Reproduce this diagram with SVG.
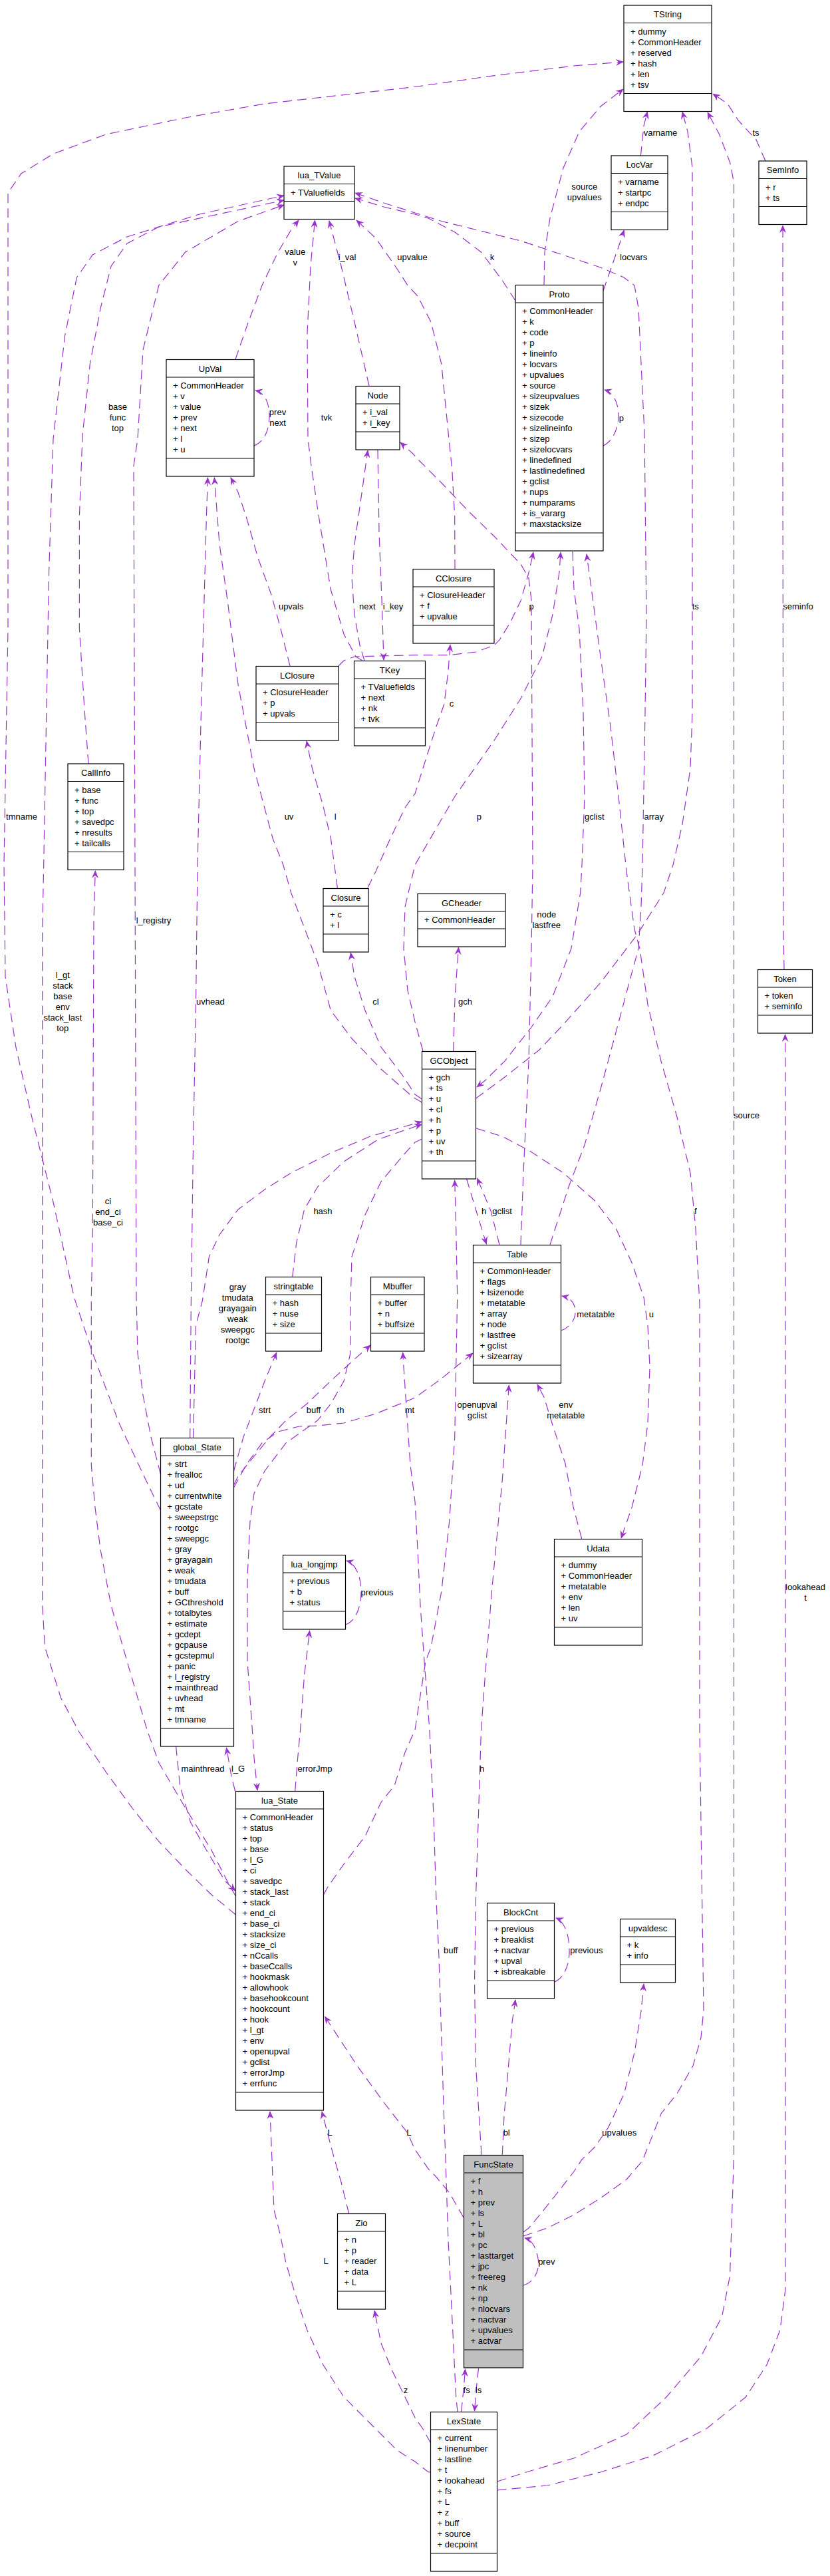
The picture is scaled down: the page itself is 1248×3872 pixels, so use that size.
<svg xmlns="http://www.w3.org/2000/svg" width="1248" height="3872" viewBox="0 0 1248 3872">
<style>
text{font-family:"Liberation Sans",Arial,sans-serif;font-size:13px;fill:#000}
.n rect{fill:#fff;stroke:#000;stroke-width:1.2}
.n line{stroke:#000;stroke-width:1.2}
.n .tt{text-anchor:middle}
#FuncState rect{fill:#bfbfbf}
.e path{fill:none;stroke:#9a32cd;stroke-width:1.2;stroke-dasharray:14,8;marker-end:url(#a)}
.e path.l{marker-end:none}
.lb text{text-anchor:middle}
</style>
<defs>
<marker id="a" viewBox="0 0 12 10" refX="11" refY="5" markerWidth="12" markerHeight="10" markerUnits="userSpaceOnUse" orient="auto"><path d="M0,0 L12,5 L0,10 L4,5 z" fill="#9a32cd"/></marker>
</defs>
<rect width="1248" height="3872" fill="#fff"/>

<g class="e">
<path d="M787,3361 L799,3357 L823,3349 L863,3329 L903,3304 L942,3276 L966,3248 L994,3177 L1018,3147 L1042,3105 L1054,3063 L1058,3021 L1052,2600 L1052,1960 L1046,1847 L1038,1763 L1018,1679 L994,1595 L974,1510 L962,1426 L954,1397 L942,1310 L930,1197 L918,1092 L903,987 L887,869 L882,833"/>
<path d="M723.5,3239 L723.5,3231 L715.5,3105 L713.5,2979 L715.5,2852 L719.5,2726 L723.5,2600 L729.5,2518 L739.4,2392 L747.4,2308 L755.3,2224 L761.3,2139 L765.3,2082"/>
<path d="M787,3435 C805,3430 812,3410 809,3395 C806,3378 800,3367 789,3364"/>
<path d="M719.5,3560 L716,3592 L713.5,3624"/>
<path d="M693.6,3625 L697,3592 L699.6,3561"/>
<path d="M697,3333 L675.7,3296 L655.8,3272 L644,3260 L624,3231 L612.8,3206 L577,3160 L537,3105 L509.4,3063 L488.5,3031"/>
<path d="M755.3,3239 L758,3180 L765,3100 L770,3040 L775,3006"/>
<path d="M787,3355 L795,3349 L815,3325 L835,3300 L863,3264 L875,3246 L894.6,3227 L914.5,3198 L938.4,3147 L954.3,3084 L964.2,3021 L968,2982"/>
<path d="M747.5,3743 L823,3736 L902.6,3716 L982,3691 L1061.7,3651 L1121.4,3603 L1153.3,3554 L1173,3502 L1181,3441 L1181,3240 L1181,1600 L1180.5,1555"/>
<path d="M647.5,3716 L644,3715.6 L624,3700 L597,3683 L557,3643 L517,3603 L485.5,3554 L461.6,3502 L441.7,3441 L429.8,3401 L421.8,3361 L411.9,3321 L408.7,3240 L406,3174"/>
<path d="M647.5,3672 L636,3651 L624,3634 L609,3603 L589,3562 L573,3522 L563,3473"/>
<path d="M688,3625 L685.7,3603 L679.7,3482 L673.7,3361 L669.8,3240 L667.8,3189 L663.8,3063 L659.8,2937 L655.8,2852 L651.9,2726 L645.9,2600 L638,2497 L632,2413 L628,2329 L624,2257 L617,2202 L610,2100 L605.6,2033"/>
<path d="M747.5,3730 L791,3716 L862.8,3695 L942.4,3659 L1002,3603 L1054,3542 L1085.6,3482 L1097.5,3421 L1103.5,3240 L1103.5,274 L1097.5,244 L1081.6,202 L1064,169"/>
<path d="M1179,1457 L1178,1400 L1177,700 L1177,339"/>
<path d="M1151,242 L1137,210 L1110,181 L1094,156 L1072,141"/>
<path d="M524.5,3327 L513,3280 L501.4,3240 L493.4,3210 L484,3174"/>
<path d="M834,2979 C850,2972 857,2950 856,2928 C855,2905 848,2888 836,2883"/>
<path d="M486.5,2848 L493,2836 L517,2802 L549,2760 L573,2709 L593,2684 L609,2634 L624,2600 L640,2497 L648,2476 L663.8,2392 L675.7,2287 L683.7,2160 L687.7,1950 L685.7,1847 L683.7,1774"/>
<path d="M354.5,2878 L318,2848 L279,2810 L239,2768 L199,2718 L159,2663 L119.4,2604 L91.5,2552 L67.6,2476 L63.7,2413 L63.7,1400 L65.7,1300 L73.6,860 L80,660 L97.5,505 L115.4,417 L139.3,383 L191,356 L300,322 L427,294"/>
<path d="M353.5,2692 L348,2670 L340.5,2627"/>
<path d="M354.5,2850 L346,2836 L318,2781 L279,2718 L239,2650 L221,2600 L191,2497 L167,2413 L151,2329 L143,2266 L137.3,2202 L137.3,1950 L139.3,1850 L141,1384 L143.3,1309"/>
<path d="M443.7,2692 L447.7,2642 L451.6,2600 L457.6,2518 L465.6,2451"/>
<path d="M351.5,2211 L354,2202 L366,2160 L382,2118 L398,2076 L415.8,2033"/>
<path d="M290.5,2161 L292.5,2076 L294.5,1992 L304.4,1955 L314.4,1889 L330,1856 L358,1818 L398,1788 L437.7,1763 L497.4,1733 L557,1708 L634,1686"/>
<path d="M351.5,2232 L358,2219 L378,2194 L406,2160 L430,2135 L461.6,2110 L497,2076 L533,2043 L557,2022"/>
<path d="M264.6,2625 L270.6,2684 L286.5,2739 L310.4,2781 L338,2827 L354,2842"/>
<path d="M285.7,2161 L287.3,1960 L290.5,1721 L294.5,1510 L297,1300 L302.4,1071 L310.4,776 L312.4,718"/>
<path d="M351.5,2236 L370,2202 L394,2169 L418,2152 L450,2144 L477.5,2143 L517,2139 L565,2125 L624,2101 L664,2072 L711,2034"/>
<path d="M241.5,2270 L219,2224 L179,2139 L139.3,2034 L111.4,1950 L79.6,1805 L47.8,1679 L23.9,1574 L8,1468 L6,1300 L12,945 L12,290 L31.8,261 L79.6,231.5 L159.2,202 L278.6,177 L398,156 L624,130.5 L743.4,113.6 L862.8,99 L937,93"/>
<path d="M241.5,2216 L227,2160 L215,2097 L207,2034 L205,1950 L203,1300 L201,700 L207,660 L215,526 L238.8,429 L278.6,379 L358,332.5 L427,308"/>
<path d="M519.5,2442 C535,2437 543,2415 543,2393 C543,2370 535,2350 521,2346"/>
<path d="M439.7,1919.5 L445.7,1868 L457.6,1818 L477.5,1784 L517,1746 L569,1712.5 L634,1690"/>
<path d="M681.7,1580 L684,1500 L689.5,1424"/>
<path d="M715.5,1651 L755,1622 L811,1578 L847,1540 L903,1477 L958,1405 L998,1342 L1012,1300 L1026,1239 L1038,1155 L1041,1071 L1041,650 L1041,252 L1034,198 L1026,168"/>
<path d="M716,1696 L755,1708 L795,1729 L847,1763 L894.6,1805 L926.4,1847 L950,1898 L968,1950 L974,1992 L977,2055 L974,2139 L966,2202.5 L950,2266 L934,2312"/>
<path d="M634.5,1652 L624,1645 L605,1616 L573,1574 L549,1519 L533,1468 L527.3,1432"/>
<path d="M701.6,1772 L716,1820 L731.4,1870"/>
<path d="M636,1580 L624,1536 L613,1489 L607,1426 L609,1363 L624,1300 L684,1197 L743,1113 L783,1050 L815,987 L831,924 L841,860 L843,830"/>
<path d="M634.5,1657 L620.8,1649 L573,1607 L529,1561 L497.4,1519 L477.5,1447 L437.7,1342 L425.8,1300 L410,1260 L382,1155 L358,1029 L342,902 L330,818 L322.3,718"/>
<path d="M634.5,1712 L624,1717 L609,1733.5 L573,1776 L549,1826 L529,1889 L527,1960 L527,2034 L517,2076 L497.4,2110 L477.5,2135 L430,2169 L398,2211 L382,2245 L376,2287 L372,2371 L372,2497 L380,2610 L382,2642 L387,2691"/>
<path d="M553,1334 L565,1310 L585,1264.5 L609,1214 L624,1193 L640,1142 L656,1092 L668,1058 L674,1008 L677,969"/>
<path d="M507.4,1335 L497.4,1260 L485.5,1210 L469.5,1155 L461,1114"/>
<path d="M509,1001 L517,993 L533,987 L624,984.6 L676,984.6 L715.5,980 L743,970 L751,962 L767,936 L783,903 L795,861 L802,830"/>
<path d="M436,1001 L422,945 L408,894 L388,839 L370,776 L358,740 L347,718"/>
<path d="M684,855 L683.7,776 L679.7,705 L674,650 L663.8,547 L648,484 L628,445 L613,429 L597,404 L565,358 L536,331"/>
<path d="M843.5,2000 C858,1995 866,1982 865,1970 C864,1958 858,1951 845,1948"/>
<path d="M827,1871 L855,1784 L879,1721 L903,1637 L926,1552 L946,1477 L960,1426 L964,1363 L966,1300 L970,1071 L972,924 L969,650 L964,547 L960,463 L954,429 L938,417 L903,402 L783,362 L664,332.5 L624,320 L577,305 L534,290"/>
<path d="M783,1871 L787,1763 L795,1595 L799,1426 L801,1300 L799,902 L795,869 L783,848 L763,827 L743,806 L704,768 L664,726 L630,692 L621,682 L602,665"/>
<path d="M751,1871 L738,1820 L717.5,1771"/>
<path d="M874.7,2313 L862,2265 L850,2200 L830,2139 L818,2100 L808,2081"/>
<path d="M555,580 L533,484 L513,400 L495,332"/>
<path d="M568,676 L570,800 L574,900 L577,992"/>
<path d="M545,993 L535,987 L517,953 L497,885 L478,768 L468,700 L463,660 L462,500 L467,400 L473.5,331"/>
<path d="M548,993 L541,970 L533,924 L529,869 L533,818 L545,734 L553,677"/>
<path d="M354,540 L372,488 L394,429 L418,379 L438,345 L449,331"/>
<path d="M382,670 C395,665 405,650 405,625 C405,605 398,590 384,587"/>
<path d="M775,452 L755,421 L723.5,379 L684,349 L644,328 L624,322 L577,311 L534,298"/>
<path d="M907,670 C920,664 930,645 930,625 C930,605 922,590 909,586"/>
<path d="M907,437 L918.5,404 L930.4,370 L938.4,346"/>
<path d="M818,428 L819,379 L827,328 L847,252.5 L871,198 L903,160 L937,134"/>
<path d="M861,829 L863,886 L871,945 L877,1071 L879,1197 L875,1300 L872.7,1342 L858.8,1426 L830.9,1498 L799,1544 L759.3,1594.6 L729.5,1624 L717,1634"/>
<path d="M963.4,234 L968,189 L973.4,168"/>
<path d="M133,1148 L127.3,1071 L119.4,945 L119.4,776 L124,655 L135.3,547 L151.2,463 L167.1,400 L191,366 L238.8,341 L427,301"/>
</g>

<g class="lb">
<text x="443.7" y="383.3">value</text><text x="443.7" y="399.3">v</text>
<text x="522" y="391">i_val</text>
<text x="620" y="391">upvalue</text>
<text x="740" y="391">k</text>
<text x="952.7" y="391">locvars</text>
<text x="993" y="204">varname</text>
<text x="1136.5" y="204">ts</text>
<text x="878.7" y="285.2">source</text><text x="878.7" y="301.2">upvalues</text>
<text x="177" y="616">base</text><text x="177" y="632">func</text><text x="177" y="648">top</text>
<text x="417.5" y="624">prev</text><text x="417.5" y="640">next</text>
<text x="491" y="631.5">tvk</text>
<text x="934.4" y="632.5">p</text>
<text x="437.7" y="915.5">upvals</text>
<text x="552.3" y="915.5">next</text>
<text x="591" y="915.5">i_key</text>
<text x="799" y="915.5">p</text>
<text x="1045.8" y="915.5">ts</text>
<text x="1200" y="915.5">seminfo</text>
<text x="679" y="1061.5">c</text>
<text x="32.6" y="1232">tmname</text>
<text x="434.5" y="1232">uv</text>
<text x="504.2" y="1232">l</text>
<text x="720.3" y="1232">p</text>
<text x="893.8" y="1232">gclist</text>
<text x="983.3" y="1232">array</text>
<text x="231" y="1387.5">l_registry</text>
<text x="821.8" y="1379">node</text><text x="821.8" y="1395">lastfree</text>
<text x="94.3" y="1469.5">l_gt</text><text x="94.3" y="1485.5">stack</text><text x="94.3" y="1501.5">base</text><text x="94.3" y="1517.5">env</text><text x="94.3" y="1533.5">stack_last</text><text x="94.3" y="1549.5">top</text>
<text x="316.4" y="1509.5">uvhead</text>
<text x="565" y="1509.5">cl</text>
<text x="699.6" y="1509.5">gch</text>
<text x="1122.6" y="1680.5">source</text>
<text x="162.4" y="1809.5">ci</text><text x="162.4" y="1825.5">end_ci</text><text x="162.4" y="1841.5">base_ci</text>
<text x="485.5" y="1825">hash</text>
<text x="727.5" y="1825">h</text>
<text x="755" y="1825">gclist</text>
<text x="1045.8" y="1825">f</text>
<text x="357.3" y="1939.2">gray</text><text x="357.3" y="1955.2">tmudata</text><text x="357.3" y="1971.2">grayagain</text><text x="357.3" y="1987.2">weak</text><text x="357.3" y="2003.2">sweepgc</text><text x="357.3" y="2019.2">rootgc</text>
<text x="895.8" y="1979.5">metatable</text>
<text x="979.4" y="1979.5">u</text>
<text x="398" y="2124">strt</text>
<text x="471.5" y="2124">buff</text>
<text x="512" y="2124">th</text>
<text x="616" y="2124">mt</text>
<text x="717.5" y="2116">openupval</text><text x="717.5" y="2132">gclist</text>
<text x="850.8" y="2116">env</text><text x="850.8" y="2132">metatable</text>
<text x="1211" y="2389.5">lookahead</text><text x="1211" y="2405.5">t</text>
<text x="567" y="2397.5">previous</text>
<text x="305" y="2663">mainthread</text>
<text x="358" y="2663">l_G</text>
<text x="473.5" y="2663">errorJmp</text>
<text x="724.7" y="2663">h</text>
<text x="677.7" y="2935.5">buff</text>
<text x="881.9" y="2935.5">previous</text>
<text x="496.2" y="3209.5">L</text>
<text x="614.8" y="3209.5">L</text>
<text x="761.7" y="3209.5">bl</text>
<text x="931.2" y="3209.5">upvalues</text>
<text x="490.2" y="3403">L</text>
<text x="821.8" y="3403.5">prev</text>
<text x="610" y="3596.5">z</text>
<text x="701.6" y="3596.5">fs</text>
<text x="719.5" y="3596.5">ls</text>
</g>

<g id="TString" class="n"><rect x="938" y="8" width="132" height="159.5"/><line x1="938" y1="34.5" x2="1070" y2="34.5"/><line x1="938" y1="140.5" x2="1070" y2="140.5"/><text class="tt" x="1004" y="26">TString</text><text x="948" y="51.5">+ dummy<tspan x="948" dy="16">+ CommonHeader</tspan><tspan x="948" dy="16">+ reserved</tspan><tspan x="948" dy="16">+ hash</tspan><tspan x="948" dy="16">+ len</tspan><tspan x="948" dy="16">+ tsv</tspan></text></g>

<g id="LocVar" class="n"><rect x="919" y="234" width="85" height="111.5"/><line x1="919" y1="260.5" x2="1004" y2="260.5"/><line x1="919" y1="318.5" x2="1004" y2="318.5"/><text class="tt" x="961.5" y="252">LocVar</text><text x="929" y="277.5">+ varname<tspan x="929" dy="16">+ startpc</tspan><tspan x="929" dy="16">+ endpc</tspan></text></g>

<g id="SemInfo" class="n"><rect x="1141" y="242" width="72" height="95.5"/><line x1="1141" y1="268.5" x2="1213" y2="268.5"/><line x1="1141" y1="310.5" x2="1213" y2="310.5"/><text class="tt" x="1177" y="260">SemInfo</text><text x="1151" y="285.5">+ r<tspan x="1151" dy="16">+ ts</tspan></text></g>

<g id="lua_TValue" class="n"><rect x="427" y="250" width="106" height="79.5"/><line x1="427" y1="276.5" x2="533" y2="276.5"/><line x1="427" y1="302.5" x2="533" y2="302.5"/><text class="tt" x="480" y="268">lua_TValue</text><text x="437" y="293.5">+ TValuefields</text></g>

<g id="Proto" class="n"><rect x="775" y="428.5" width="132" height="399.5"/><line x1="775" y1="455" x2="907" y2="455"/><line x1="775" y1="801" x2="907" y2="801"/><text class="tt" x="841" y="446.5">Proto</text><text x="785" y="472">+ CommonHeader<tspan x="785" dy="16">+ k</tspan><tspan x="785" dy="16">+ code</tspan><tspan x="785" dy="16">+ p</tspan><tspan x="785" dy="16">+ lineinfo</tspan><tspan x="785" dy="16">+ locvars</tspan><tspan x="785" dy="16">+ upvalues</tspan><tspan x="785" dy="16">+ source</tspan><tspan x="785" dy="16">+ sizeupvalues</tspan><tspan x="785" dy="16">+ sizek</tspan><tspan x="785" dy="16">+ sizecode</tspan><tspan x="785" dy="16">+ sizelineinfo</tspan><tspan x="785" dy="16">+ sizep</tspan><tspan x="785" dy="16">+ sizelocvars</tspan><tspan x="785" dy="16">+ linedefined</tspan><tspan x="785" dy="16">+ lastlinedefined</tspan><tspan x="785" dy="16">+ gclist</tspan><tspan x="785" dy="16">+ nups</tspan><tspan x="785" dy="16">+ numparams</tspan><tspan x="785" dy="16">+ is_vararg</tspan><tspan x="785" dy="16">+ maxstacksize</tspan></text></g>

<g id="UpVal" class="n"><rect x="250" y="540.5" width="132" height="175.5"/><line x1="250" y1="567" x2="382" y2="567"/><line x1="250" y1="689" x2="382" y2="689"/><text class="tt" x="316" y="558.5">UpVal</text><text x="260" y="584">+ CommonHeader<tspan x="260" dy="16">+ v</tspan><tspan x="260" dy="16">+ value</tspan><tspan x="260" dy="16">+ prev</tspan><tspan x="260" dy="16">+ next</tspan><tspan x="260" dy="16">+ l</tspan><tspan x="260" dy="16">+ u</tspan></text></g>

<g id="Node" class="n"><rect x="535" y="580.5" width="66" height="95.5"/><line x1="535" y1="607" x2="601" y2="607"/><line x1="535" y1="649" x2="601" y2="649"/><text class="tt" x="568" y="598.5">Node</text><text x="545" y="624">+ i_val<tspan x="545" dy="16">+ i_key</tspan></text></g>

<g id="CClosure" class="n"><rect x="621" y="855.5" width="122" height="111.5"/><line x1="621" y1="882" x2="743" y2="882"/><line x1="621" y1="940" x2="743" y2="940"/><text class="tt" x="682" y="873.5">CClosure</text><text x="631" y="899">+ ClosureHeader<tspan x="631" dy="16">+ f</tspan><tspan x="631" dy="16">+ upvalue</tspan></text></g>

<g id="TKey" class="n"><rect x="532.5" y="993.5" width="107" height="127.5"/><line x1="532.5" y1="1020" x2="639.5" y2="1020"/><line x1="532.5" y1="1094" x2="639.5" y2="1094"/><text class="tt" x="586" y="1011.5">TKey</text><text x="542.5" y="1037">+ TValuefields<tspan x="542.5" dy="16">+ next</tspan><tspan x="542.5" dy="16">+ nk</tspan><tspan x="542.5" dy="16">+ tvk</tspan></text></g>

<g id="LClosure" class="n"><rect x="385" y="1001.5" width="124" height="111.5"/><line x1="385" y1="1028" x2="509" y2="1028"/><line x1="385" y1="1086" x2="509" y2="1086"/><text class="tt" x="447" y="1019.5">LClosure</text><text x="395" y="1045">+ ClosureHeader<tspan x="395" dy="16">+ p</tspan><tspan x="395" dy="16">+ upvals</tspan></text></g>

<g id="CallInfo" class="n"><rect x="102" y="1148" width="84" height="159.5"/><line x1="102" y1="1174.5" x2="186" y2="1174.5"/><line x1="102" y1="1280.5" x2="186" y2="1280.5"/><text class="tt" x="144" y="1166">CallInfo</text><text x="112" y="1191.5">+ base<tspan x="112" dy="16">+ func</tspan><tspan x="112" dy="16">+ top</tspan><tspan x="112" dy="16">+ savedpc</tspan><tspan x="112" dy="16">+ nresults</tspan><tspan x="112" dy="16">+ tailcalls</tspan></text></g>

<g id="Closure" class="n"><rect x="486" y="1335.5" width="68" height="95.5"/><line x1="486" y1="1362" x2="554" y2="1362"/><line x1="486" y1="1404" x2="554" y2="1404"/><text class="tt" x="520" y="1353.5">Closure</text><text x="496" y="1379">+ c<tspan x="496" dy="16">+ l</tspan></text></g>

<g id="GCheader" class="n"><rect x="628" y="1343.5" width="132" height="79.5"/><line x1="628" y1="1370" x2="760" y2="1370"/><line x1="628" y1="1396" x2="760" y2="1396"/><text class="tt" x="694" y="1361.5">GCheader</text><text x="638" y="1387">+ CommonHeader</text></g>

<g id="Token" class="n"><rect x="1139.5" y="1457.5" width="82" height="95.5"/><line x1="1139.5" y1="1484" x2="1221.5" y2="1484"/><line x1="1139.5" y1="1526" x2="1221.5" y2="1526"/><text class="tt" x="1180.5" y="1475.5">Token</text><text x="1149.5" y="1501">+ token<tspan x="1149.5" dy="16">+ seminfo</tspan></text></g>

<g id="GCObject" class="n"><rect x="634.5" y="1580.5" width="81" height="191.5"/><line x1="634.5" y1="1607" x2="715.5" y2="1607"/><line x1="634.5" y1="1745" x2="715.5" y2="1745"/><text class="tt" x="675" y="1598.5">GCObject</text><text x="644.5" y="1624">+ gch<tspan x="644.5" dy="16">+ ts</tspan><tspan x="644.5" dy="16">+ u</tspan><tspan x="644.5" dy="16">+ cl</tspan><tspan x="644.5" dy="16">+ h</tspan><tspan x="644.5" dy="16">+ p</tspan><tspan x="644.5" dy="16">+ uv</tspan><tspan x="644.5" dy="16">+ th</tspan></text></g>

<g id="Table" class="n"><rect x="711.5" y="1871.5" width="132" height="207.5"/><line x1="711.5" y1="1898" x2="843.5" y2="1898"/><line x1="711.5" y1="2052" x2="843.5" y2="2052"/><text class="tt" x="777.5" y="1889.5">Table</text><text x="721.5" y="1915">+ CommonHeader<tspan x="721.5" dy="16">+ flags</tspan><tspan x="721.5" dy="16">+ lsizenode</tspan><tspan x="721.5" dy="16">+ metatable</tspan><tspan x="721.5" dy="16">+ array</tspan><tspan x="721.5" dy="16">+ node</tspan><tspan x="721.5" dy="16">+ lastfree</tspan><tspan x="721.5" dy="16">+ gclist</tspan><tspan x="721.5" dy="16">+ sizearray</tspan></text></g>

<g id="stringtable" class="n"><rect x="399.5" y="1919.5" width="84" height="111.5"/><line x1="399.5" y1="1946" x2="483.5" y2="1946"/><line x1="399.5" y1="2004" x2="483.5" y2="2004"/><text class="tt" x="441.5" y="1937.5">stringtable</text><text x="409.5" y="1963">+ hash<tspan x="409.5" dy="16">+ nuse</tspan><tspan x="409.5" dy="16">+ size</tspan></text></g>

<g id="Mbuffer" class="n"><rect x="557.5" y="1919.5" width="80.5" height="111.5"/><line x1="557.5" y1="1946" x2="638" y2="1946"/><line x1="557.5" y1="2004" x2="638" y2="2004"/><text class="tt" x="597.75" y="1937.5">Mbuffer</text><text x="567.5" y="1963">+ buffer<tspan x="567.5" dy="16">+ n</tspan><tspan x="567.5" dy="16">+ buffsize</tspan></text></g>

<g id="global_State" class="n"><rect x="241.5" y="2161.5" width="110" height="463.5"/><line x1="241.5" y1="2188" x2="351.5" y2="2188"/><line x1="241.5" y1="2598" x2="351.5" y2="2598"/><text class="tt" x="296.5" y="2179.5">global_State</text><text x="251.5" y="2205">+ strt<tspan x="251.5" dy="16">+ frealloc</tspan><tspan x="251.5" dy="16">+ ud</tspan><tspan x="251.5" dy="16">+ currentwhite</tspan><tspan x="251.5" dy="16">+ gcstate</tspan><tspan x="251.5" dy="16">+ sweepstrgc</tspan><tspan x="251.5" dy="16">+ rootgc</tspan><tspan x="251.5" dy="16">+ sweepgc</tspan><tspan x="251.5" dy="16">+ gray</tspan><tspan x="251.5" dy="16">+ grayagain</tspan><tspan x="251.5" dy="16">+ weak</tspan><tspan x="251.5" dy="16">+ tmudata</tspan><tspan x="251.5" dy="16">+ buff</tspan><tspan x="251.5" dy="16">+ GCthreshold</tspan><tspan x="251.5" dy="16">+ totalbytes</tspan><tspan x="251.5" dy="16">+ estimate</tspan><tspan x="251.5" dy="16">+ gcdept</tspan><tspan x="251.5" dy="16">+ gcpause</tspan><tspan x="251.5" dy="16">+ gcstepmul</tspan><tspan x="251.5" dy="16">+ panic</tspan><tspan x="251.5" dy="16">+ l_registry</tspan><tspan x="251.5" dy="16">+ mainthread</tspan><tspan x="251.5" dy="16">+ uvhead</tspan><tspan x="251.5" dy="16">+ mt</tspan><tspan x="251.5" dy="16">+ tmname</tspan></text></g>

<g id="Udata" class="n"><rect x="833.5" y="2313.5" width="132" height="159.5"/><line x1="833.5" y1="2340" x2="965.5" y2="2340"/><line x1="833.5" y1="2446" x2="965.5" y2="2446"/><text class="tt" x="899.5" y="2331.5">Udata</text><text x="843.5" y="2357">+ dummy<tspan x="843.5" dy="16">+ CommonHeader</tspan><tspan x="843.5" dy="16">+ metatable</tspan><tspan x="843.5" dy="16">+ env</tspan><tspan x="843.5" dy="16">+ len</tspan><tspan x="843.5" dy="16">+ uv</tspan></text></g>

<g id="lua_longjmp" class="n"><rect x="425.5" y="2337.5" width="94" height="111.5"/><line x1="425.5" y1="2364" x2="519.5" y2="2364"/><line x1="425.5" y1="2422" x2="519.5" y2="2422"/><text class="tt" x="472.5" y="2355.5">lua_longjmp</text><text x="435.5" y="2381">+ previous<tspan x="435.5" dy="16">+ b</tspan><tspan x="435.5" dy="16">+ status</tspan></text></g>

<g id="lua_State" class="n"><rect x="354.5" y="2692.5" width="132" height="479.5"/><line x1="354.5" y1="2719" x2="486.5" y2="2719"/><line x1="354.5" y1="3145" x2="486.5" y2="3145"/><text class="tt" x="420.5" y="2710.5">lua_State</text><text x="364.5" y="2736">+ CommonHeader<tspan x="364.5" dy="16">+ status</tspan><tspan x="364.5" dy="16">+ top</tspan><tspan x="364.5" dy="16">+ base</tspan><tspan x="364.5" dy="16">+ l_G</tspan><tspan x="364.5" dy="16">+ ci</tspan><tspan x="364.5" dy="16">+ savedpc</tspan><tspan x="364.5" dy="16">+ stack_last</tspan><tspan x="364.5" dy="16">+ stack</tspan><tspan x="364.5" dy="16">+ end_ci</tspan><tspan x="364.5" dy="16">+ base_ci</tspan><tspan x="364.5" dy="16">+ stacksize</tspan><tspan x="364.5" dy="16">+ size_ci</tspan><tspan x="364.5" dy="16">+ nCcalls</tspan><tspan x="364.5" dy="16">+ baseCcalls</tspan><tspan x="364.5" dy="16">+ hookmask</tspan><tspan x="364.5" dy="16">+ allowhook</tspan><tspan x="364.5" dy="16">+ basehookcount</tspan><tspan x="364.5" dy="16">+ hookcount</tspan><tspan x="364.5" dy="16">+ hook</tspan><tspan x="364.5" dy="16">+ l_gt</tspan><tspan x="364.5" dy="16">+ env</tspan><tspan x="364.5" dy="16">+ openupval</tspan><tspan x="364.5" dy="16">+ gclist</tspan><tspan x="364.5" dy="16">+ errorJmp</tspan><tspan x="364.5" dy="16">+ errfunc</tspan></text></g>

<g id="BlockCnt" class="n"><rect x="732.5" y="2860.5" width="101" height="143.5"/><line x1="732.5" y1="2887" x2="833.5" y2="2887"/><line x1="732.5" y1="2977" x2="833.5" y2="2977"/><text class="tt" x="783" y="2878.5">BlockCnt</text><text x="742.5" y="2904">+ previous<tspan x="742.5" dy="16">+ breaklist</tspan><tspan x="742.5" dy="16">+ nactvar</tspan><tspan x="742.5" dy="16">+ upval</tspan><tspan x="742.5" dy="16">+ isbreakable</tspan></text></g>

<g id="upvaldesc" class="n"><rect x="932.5" y="2884.5" width="83" height="95.5"/><line x1="932.5" y1="2911" x2="1015.5" y2="2911"/><line x1="932.5" y1="2953" x2="1015.5" y2="2953"/><text class="tt" x="974" y="2902.5">upvaldesc</text><text x="942.5" y="2928">+ k<tspan x="942.5" dy="16">+ info</tspan></text></g>

<g id="Zio" class="n"><rect x="507.5" y="3327.5" width="72" height="143.5"/><line x1="507.5" y1="3354" x2="579.5" y2="3354"/><line x1="507.5" y1="3444" x2="579.5" y2="3444"/><text class="tt" x="543.5" y="3345.5">Zio</text><text x="517.5" y="3371">+ n<tspan x="517.5" dy="16">+ p</tspan><tspan x="517.5" dy="16">+ reader</tspan><tspan x="517.5" dy="16">+ data</tspan><tspan x="517.5" dy="16">+ L</tspan></text></g>

<g id="FuncState" class="n"><rect x="697.5" y="3239.5" width="89" height="319.5"/><line x1="697.5" y1="3266" x2="786.5" y2="3266"/><line x1="697.5" y1="3532" x2="786.5" y2="3532"/><text class="tt" x="742" y="3257.5">FuncState</text><text x="707.5" y="3283">+ f<tspan x="707.5" dy="16">+ h</tspan><tspan x="707.5" dy="16">+ prev</tspan><tspan x="707.5" dy="16">+ ls</tspan><tspan x="707.5" dy="16">+ L</tspan><tspan x="707.5" dy="16">+ bl</tspan><tspan x="707.5" dy="16">+ pc</tspan><tspan x="707.5" dy="16">+ lasttarget</tspan><tspan x="707.5" dy="16">+ jpc</tspan><tspan x="707.5" dy="16">+ freereg</tspan><tspan x="707.5" dy="16">+ nk</tspan><tspan x="707.5" dy="16">+ np</tspan><tspan x="707.5" dy="16">+ nlocvars</tspan><tspan x="707.5" dy="16">+ nactvar</tspan><tspan x="707.5" dy="16">+ upvalues</tspan><tspan x="707.5" dy="16">+ actvar</tspan></text></g>

<g id="LexState" class="n"><rect x="647.5" y="3625.5" width="100" height="239.5"/><line x1="647.5" y1="3652" x2="747.5" y2="3652"/><line x1="647.5" y1="3838" x2="747.5" y2="3838"/><text class="tt" x="697.5" y="3643.5">LexState</text><text x="657.5" y="3669">+ current<tspan x="657.5" dy="16">+ linenumber</tspan><tspan x="657.5" dy="16">+ lastline</tspan><tspan x="657.5" dy="16">+ t</tspan><tspan x="657.5" dy="16">+ lookahead</tspan><tspan x="657.5" dy="16">+ fs</tspan><tspan x="657.5" dy="16">+ L</tspan><tspan x="657.5" dy="16">+ z</tspan><tspan x="657.5" dy="16">+ buff</tspan><tspan x="657.5" dy="16">+ source</tspan><tspan x="657.5" dy="16">+ decpoint</tspan></text></g>
</svg>
